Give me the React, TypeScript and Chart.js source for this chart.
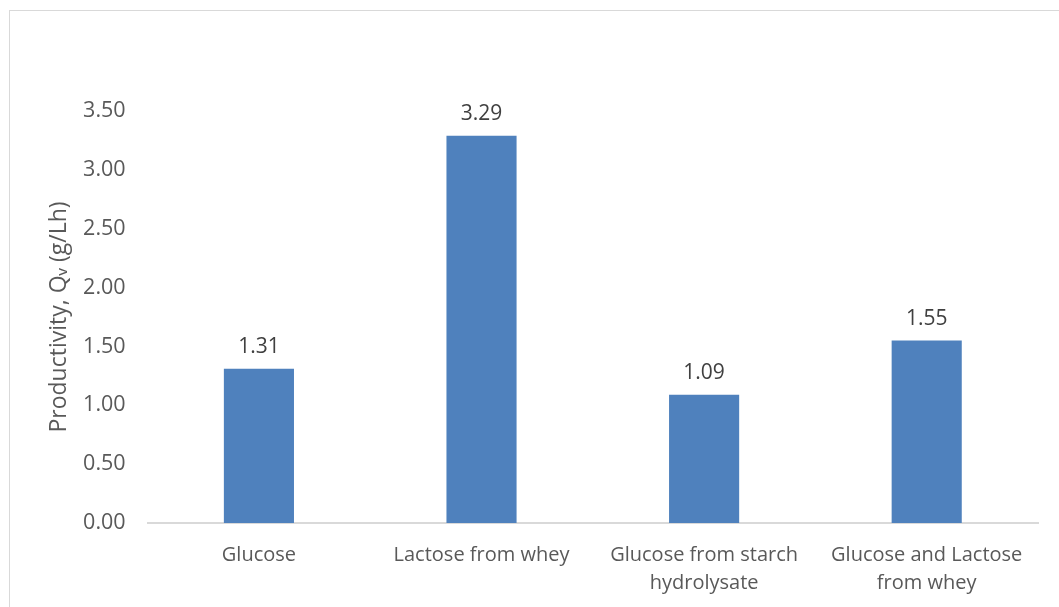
import React, { useEffect, useRef } from "react";
import { Chart, registerables } from "chart.js";

Chart.register(...registerables);

const categories: (string | string[])[] = [
  "Glucose",
  "Lactose from whey",
  ["Glucose from starch", "hydrolysate"],
  ["Glucose and Lactose", "from whey"],
];
const productivity = [1.31, 3.29, 1.09, 1.55];
const yMin = 0;
const yMax = 3.5;
const yStep = 0.5;
const yTitle = "Productivity, Q\u1D65 (g/Lh)";

const FONT = "'Open Sans', 'Liberation Sans', sans-serif";
const TEXT = "#595959";

const valueLabels = {
  id: "valueLabels",
  afterDatasetsDraw(chart: any) {
    const ctx = chart.ctx;
    const meta = chart.getDatasetMeta(0);
    ctx.save();
    ctx.font = `21px ${FONT}`;
    ctx.fillStyle = "#404040";
    ctx.textAlign = "center";
    ctx.textBaseline = "alphabetic";
    meta.data.forEach((bar: any, i: number) => {
      const v = chart.data.datasets[0].data[i] as number;
      ctx.fillText(v.toFixed(2), bar.x, bar.y - 16);
    });
    ctx.restore();
  },
};

export default function App() {
  const ref = useRef<HTMLCanvasElement | null>(null);
  useEffect(() => {
    if (!ref.current) return;
    const chart = new Chart(ref.current, {
      type: "bar",
      data: {
        labels: categories,
        datasets: [
          {
            data: productivity,
            backgroundColor: "#4F81BD",
            borderWidth: 0,
            barPercentage: 0.315,
            categoryPercentage: 1,
          },
        ],
      },
      options: {
        responsive: false,
        animation: false,
        layout: { padding: { left: 46, right: 21, top: 111, bottom: 0 } },
        plugins: {
          legend: { display: false },
          tooltip: { enabled: false },
          title: { display: false },
        },
        scales: {
          x: {
            grid: { display: false, drawTicks: false },
            border: { display: true, color: "#d9d9d9", width: 2 },
            ticks: {
              color: TEXT,
              font: { family: FONT, size: 20, lineHeight: 1.4 },
              padding: 18,
              maxRotation: 0,
              autoSkip: false,
            },
          },
          y: {
            min: yMin,
            max: yMax,
            grid: { display: false, drawTicks: false },
            border: { display: false },
            ticks: {
              stepSize: yStep,
              color: TEXT,
              font: { family: FONT, size: 21.5 },
              padding: 22,
              callback: (v: any) => Number(v).toFixed(2),
            },
            title: {
              display: true,
              text: yTitle,
              color: TEXT,
              font: { family: FONT, size: 23 },
              padding: { top: 0, bottom: -12.5 },
            },
          },
        },
      },
      plugins: [valueLabels],
    });
    return () => chart.destroy();
  }, []);

  return (
    <div
      style={{
        position: "fixed",
        left: 0,
        top: 0,
        width: 1059,
        height: 607,
        overflow: "hidden",
        background: "#ffffff",
      }}
    >
      <div
        style={{
          position: "absolute",
          left: 9,
          top: 10,
          width: 1200,
          height: 800,
          border: "1px solid #d9d9d9",
          boxSizing: "border-box",
          pointerEvents: "none",
        }}
      />
      <canvas
        ref={ref}
        width={1059}
        height={615}
        style={{ position: "absolute", left: 0, top: 0 }}
      />
    </div>
  );
}
